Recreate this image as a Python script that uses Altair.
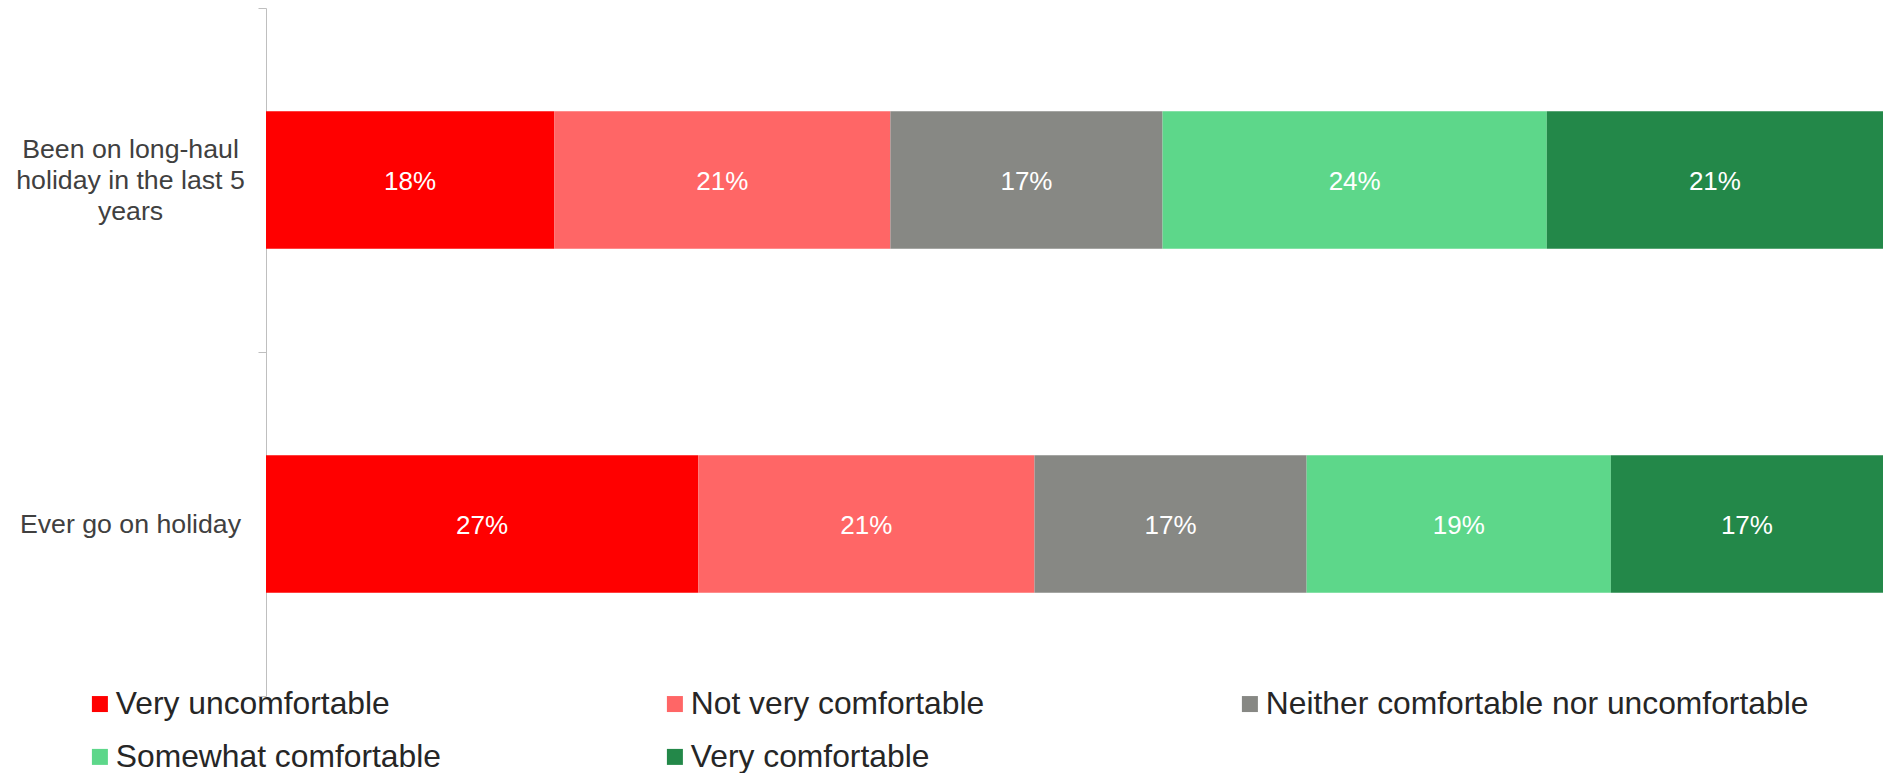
import altair as alt
import pandas as pd

groups = ["Been on long-haul holiday in the last 5 years", "Ever go on holiday"]
group_lines = [["Been on long-haul", "holiday in the last 5", "years"], ["Ever go on holiday"]]
responses = [
    "Very uncomfortable",
    "Not very comfortable",
    "Neither comfortable nor uncomfortable",
    "Somewhat comfortable",
    "Very comfortable",
]
colors = ["#FF0000", "#FF6666", "#878884", "#5DD78A", "#238849"]
long_haul = [18, 21, 17, 24, 21]
ever_holiday = [27, 21, 17, 19, 17]

rows = []
for g, vals in zip(groups, [long_haul, ever_holiday]):
    for i, (r, v) in enumerate(zip(responses, vals)):
        rows.append({"group": g, "response": r, "order": i, "value": v})
df = pd.DataFrame(rows)

FONT = "Liberation Sans"

label_expr = "datum.value == '%s' ? %s : datum.label" % (
    groups[0], "[" + ", ".join("'%s'" % s for s in group_lines[0]) + "]"
)
multi_test = "datum.value == '%s'" % groups[0]

base = (
    alt.Chart(df)
    .transform_stack(
        stack="value",
        groupby=["group"],
        as_=["v0", "v1"],
        offset="normalize",
        sort=[alt.SortField("order", order="ascending")],
    )
    .transform_calculate(mid="(datum.v0 + datum.v1) / 2", lbl="datum.value + '%'")
)

y_enc = alt.Y(
    "group:N",
    sort=groups,
    title=None,
    scale=alt.Scale(paddingInner=0, paddingOuter=0),
    axis=alt.Axis(
        domainColor="#BFBFBF",
        tickColor="#BFBFBF",
        tickSize=8,
        tickBand="extent",
        labelAlign="center",
        labelBaseline="middle",
        labelPadding=128,
        labelOffset={"condition": {"test": multi_test, "value": -31}, "value": 0},
        labelFont=FONT,
        labelFontSize=26.7,
        labelColor="#404040",
        labelLimit=400,
        labelLineHeight=31,
        labelExpr=label_expr,
        grid=False,
    ),
)

x_scale = alt.Scale(domain=[0, 1], nice=False, zero=True)

bars = base.mark_bar(height=alt.RelativeBandSize(0.4)).encode(
    x=alt.X("v0:Q", scale=x_scale, axis=None),
    x2="v1:Q",
    y=y_enc,
    color=alt.Color(
        "response:N",
        sort=responses,
        scale=alt.Scale(domain=responses, range=colors),
        legend=alt.Legend(
            title=None,
            orient="none",
            direction="horizontal",
            legendX=-182,
            legendY=680,
            columns=3,
            gridAlign="all",
            columnPadding={"expr": "0"},
            rowPadding=20,
            symbolType="square",
            symbolSize=256,
            symbolStrokeWidth=0,
            labelFont=FONT,
            labelFontSize=31.8,
            labelColor="#262626",
            labelOffset=0,
            labelLimit=700,
        ),
    ),
)

text = base.mark_text(color="white", font=FONT, fontSize=26, dy=2).encode(
    x=alt.X("mid:Q", scale=x_scale, axis=None),
    y=alt.Y("group:N", sort=groups),
    text="lbl:N",
)

chart = (
    alt.layer(bars, text)
    .properties(
        width=1617,
        height=688,
        autosize=alt.AutoSizeParams(type="none"),
        padding={"left": 258, "top": 0, "right": 0, "bottom": 77},
    )
    .configure_view(stroke=None)
)

chart.save("out.html", embed_options={"renderer": "svg", "actions": False})
